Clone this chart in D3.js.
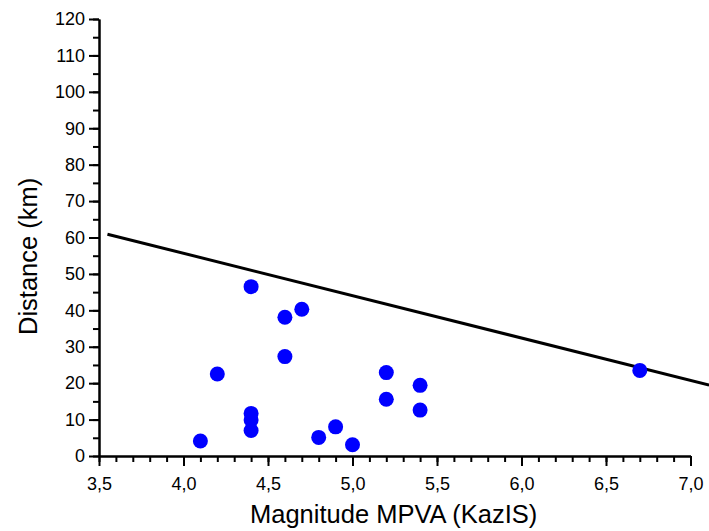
<!DOCTYPE html>
<html>
<head>
<meta charset="utf-8">
<script src="https://cdn.jsdelivr.net/npm/d3@7"></script>
<style>
  body { margin: 0; background: #fff; }
  svg { display: block; font-family: Arial, "Liberation Sans", sans-serif; }
  .axis path, .axis line { stroke: #000; stroke-width: 2; }
  .axis text { font-size: 18px; fill: #000; }
</style>
</head>
<body>
<svg width="709" height="531"></svg>
<script>
// magnitude (KazIS) of each event
const magnitude = [4.1, 4.2, 4.4, 4.4, 4.4, 4.4, 4.6, 4.6, 4.7, 4.8, 4.9, 5.0, 5.2, 5.2, 5.4, 5.4, 6.7]
// epicentral distance, km
const distance = [4.1, 22.5, 46.5, 11.7, 9.9, 7.0, 38.1, 27.3, 40.3, 5.1, 8.0, 3.1, 22.9, 15.6, 19.4, 12.6, 23.5]
// boundary line, two end points
const lineMag = [3.55, 7.11]
const lineDist = [60.9, 19.5]
const xTicks = [3.5, 4.0, 4.5, 5.0, 5.5, 6.0, 6.5, 7.0]
const yTicks = [0, 10, 20, 30, 40, 50, 60, 70, 80, 90, 100, 110, 120]

const svg = d3.select('svg')

const margin = { top: 19, left: 99 }

const chart = svg.append('g')
  .attr('transform', `translate(${margin.left}, ${margin.top})`)

const x = d3.scaleLinear().domain([3.5, 7.0]).range([0, 591.5])
const y = d3.scaleLinear().domain([0, 120]).range([437, 0])

const fmt = d => d.toFixed(1).replace('.', ',')

/*minor ticks*/
chart.append('g')
  .attr('class', 'axis')
  .attr('transform', `translate(0, ${y(0)})`)
  .call(d3.axisBottom(x).tickValues(d3.range(35, 71).map(d => d / 10)).tickSize(6).tickFormat('').tickSizeOuter(0))
chart.append('g')
  .attr('class', 'axis')
  .call(d3.axisLeft(y).tickValues(d3.range(0, 121, 5)).tickSize(6).tickFormat('').tickSizeOuter(0))

/*major ticks*/
chart.append('g')
  .attr('class', 'axis')
  .attr('transform', `translate(0, ${y(0)})`)
  .call(d3.axisBottom(x).tickValues(xTicks).tickSize(10).tickPadding(11).tickFormat(fmt).tickSizeOuter(0))

chart.append('g')
  .attr('class', 'axis')
  .call(d3.axisLeft(y).tickValues(yTicks).tickSize(10).tickPadding(4).tickSizeOuter(0))

/*boundary line*/
const lineData = lineMag.map((m, i) => ({ m: m, d: lineDist[i] }))
chart.append('path')
  .datum(lineData)
  .attr('fill', 'none')
  .attr('stroke', '#000')
  .attr('stroke-width', 3)
  .attr('d', d3.line().x(d => x(d.m)).y(d => y(d.d)))

/*points*/
chart.selectAll('.dot')
  .data(magnitude.map((m, i) => ({ m: m, d: distance[i] })))
  .enter()
  .append('circle')
  .attr('class', 'dot')
  .attr('cx', d => x(d.m))
  .attr('cy', d => y(d.d))
  .attr('r', 7.5)
  .attr('fill', '#0000ff')

/*titles*/
svg.append('text')
  .attr('x', 250)
  .attr('y', 523)
  .attr('font-size', 25.5)
  .text('Magnitude MPVA (KazIS)')

svg.append('text')
  .attr('transform', 'translate(37, 335) rotate(-90)')
  .attr('font-size', 25.5)
  .text('Distance (km)')
</script>
</body>
</html>
